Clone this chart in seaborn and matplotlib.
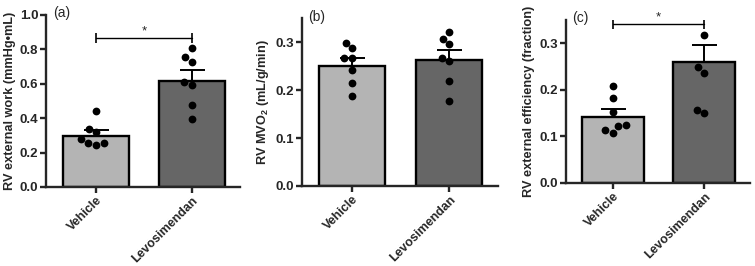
import matplotlib
matplotlib.use('Agg')
import matplotlib.pyplot as plt
import seaborn as sns
import numpy as np
import pandas as pd

# data
groups = ['Vehicle', 'Levosimendan']

work_vehicle = [0.441, 0.336, 0.317, 0.280, 0.258, 0.243, 0.258]
work_levo = [0.805, 0.754, 0.727, 0.590, 0.608, 0.478, 0.397]
work_mean = [0.299, 0.618]
work_sem = [0.031, 0.060]

mvo2_vehicle = [0.299, 0.288, 0.268, 0.268, 0.242, 0.216, 0.187]
mvo2_levo = [0.322, 0.306, 0.296, 0.261, 0.267, 0.220, 0.178]
mvo2_mean = [0.250, 0.263]
mvo2_sem = [0.018, 0.021]

eff_vehicle = [0.209, 0.183, 0.152, 0.122, 0.108, 0.113, 0.125]
eff_levo = [0.317, 0.248, 0.237, 0.150, 0.157]
eff_mean = [0.141, 0.260]
eff_sem = [0.018, 0.037]

sns.set_style('ticks')
plt.rcParams['font.family'] = ['Liberation Sans', 'DejaVu Sans']
plt.rcParams['mathtext.fontset'] = 'custom'
plt.rcParams['mathtext.rm'] = 'Liberation Sans:bold'
plt.rcParams['mathtext.bf'] = 'Liberation Sans:bold'

bar_colors = ['#b4b4b4', '#666666']

fig = plt.figure(figsize=(7.55, 2.66), dpi=100)

def panel(rect, veh, levo, means, sems, ylabel, ylim, yticks, letter, sig=None):
    ax = fig.add_axes(rect)
    bars = pd.DataFrame({'group': groups, 'value': means})
    sns.barplot(data=bars, x='group', y='value', hue='group', palette=bar_colors,
                order=groups, width=0.68, edgecolor='black', linewidth=1.7,
                errorbar=None, legend=False, ax=ax, zorder=1)
    ax.errorbar([0, 1], means, yerr=[[0, 0], sems], fmt='none', ecolor='black',
                elinewidth=1.4, capsize=9, capthick=1.4, zorder=2)
    pts = pd.DataFrame({'group': ['Vehicle'] * len(veh) + ['Levosimendan'] * len(levo),
                        'value': veh + levo})
    sns.swarmplot(data=pts, x='group', y='value', order=groups, color='black',
                  size=5.6, ax=ax, zorder=3)
    ax.set_xlim(-0.52, 1.5)
    ax.set_ylim(*ylim)
    ax.set_yticks(yticks)
    ax.set_yticklabels(['%.1f' % t for t in yticks], fontweight='bold', fontsize=9.5)
    ax.set_xticks([0, 1])
    ax.set_xticklabels(groups, rotation=45, ha='right', rotation_mode='anchor',
                       fontweight='bold', fontsize=9)
    ax.set_xlabel('')
    ax.set_ylabel(ylabel, fontweight='bold', fontsize=9.2, labelpad=3)
    for s in ['top', 'right']:
        ax.spines[s].set_visible(False)
    for s in ['left', 'bottom']:
        ax.spines[s].set_linewidth(1.7)
    ax.tick_params(width=1.7, length=4, pad=1.5)
    ax.text(0.035, 1.01, letter, transform=ax.transAxes, fontsize=10, va='center', ha='left')
    if sig is not None:
        ax.plot([0, 1], [sig, sig], color='black', lw=1.0)
        ax.plot([0, 1], [sig, sig], ls='none', marker='|', ms=7, mew=1.2, color='black')
        ax.text(0.5, sig, '*', ha='center', va='bottom', fontsize=9.5)
    return ax

panel([0.0609, 0.297, 0.257, 0.647], work_vehicle, work_levo, work_mean, work_sem,
      'RV external work (mmHg\u2022mL)', (0, 1.0), [0, 0.2, 0.4, 0.6, 0.8, 1.0], '(a)', sig=0.867)
panel([0.3996, 0.301, 0.260, 0.630], mvo2_vehicle, mvo2_levo, mvo2_mean, mvo2_sem,
      'RV MVO$_2$ (mL/g/min)', (0, 0.35), [0, 0.1, 0.2, 0.3], '(b)')
panel([0.7493, 0.313, 0.244, 0.612], eff_vehicle, eff_levo, eff_mean, eff_sem,
      'RV external efficiency (fraction)', (0, 0.35), [0, 0.1, 0.2, 0.3], '(c)', sig=0.342)

fig.savefig('out.png', dpi=100)
